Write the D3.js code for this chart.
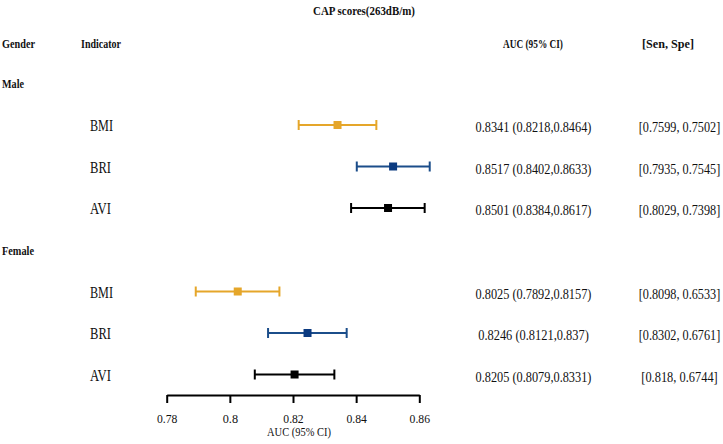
<!DOCTYPE html>
<html>
<head>
<meta charset="utf-8">
<script src="https://cdn.jsdelivr.net/npm/d3@7"></script>
<style>
  html, body { margin: 0; padding: 0; background: #fff; }
  svg { display: block; }
  text { font-family: "Liberation Serif", "Times New Roman", Tinos, serif; fill: #111; }
</style>
</head>
<body>
<svg id="chart" width="723" height="444"></svg>
<script>
// ---- data ----
const title = "CAP scores(263dB/m)";
const headers = ["Gender", "Indicator", "AUC (95% CI)", "[Sen, Spe]"];
const genders = ["Male", "Female"];
const indicators = ["BMI", "BRI", "AVI"];
const auc   = [0.8341, 0.8517, 0.8501, 0.8025, 0.8246, 0.8205];
const lower = [0.8218, 0.8402, 0.8384, 0.7892, 0.8121, 0.8079];
const upper = [0.8464, 0.8633, 0.8617, 0.8157, 0.8370, 0.8331];
const aucText = ["0.8341 (0.8218,0.8464)", "0.8517 (0.8402,0.8633)", "0.8501 (0.8384,0.8617)",
                 "0.8025 (0.7892,0.8157)", "0.8246 (0.8121,0.837)", "0.8205 (0.8079,0.8331)"];
const senSpe = ["[0.7599, 0.7502]", "[0.7935, 0.7545]", "[0.8029, 0.7398]",
                "[0.8098, 0.6533]", "[0.8302, 0.6761]", "[0.818, 0.6744]"];
const xTicks = [0.78, 0.80, 0.82, 0.84, 0.86];
const xTickLabels = ["0.78", "0.8", "0.82", "0.84", "0.86"];
const xLabel = "AUC (95% CI)";
const colors = { BMI: "#E5A62A", BRI: "#1B4D8A", AVI: "#000000" };

// ---- layout ----
const svg = d3.select("#chart");
const x = d3.scaleLinear().domain([0.78, 0.86]).range([166.7, 419.3]);

const rows = [];
genders.forEach((g, gi) => indicators.forEach((ind, ii) => {
  const i = gi * indicators.length + ii;
  rows.push({ g, ind, i, gi, ii, auc: auc[i], lo: lower[i], hi: upper[i], aucText: aucText[i], ss: senSpe[i] });
}));
const yRow = d => 125 + d.gi * 166.5 + d.ii * 41.5;

// helper: text centred on (cx, y) and horizontally scaled to width w
function fitText(sel, cx, y, w) {
  sel.attr("text-anchor", "middle").attr("x", 0).attr("y", 0)
    .each(function (d, i) {
      const nat = this.getComputedTextLength() || 1;
      const s = w(d, i) / nat;
      d3.select(this).attr("transform", `translate(${cx(d, i)},${y(d, i)}) scale(${s},1)`);
    });
}

// title
svg.append("text").datum(title)
  .attr("font-weight", "bold").attr("font-size", 13).text(d => d)
  .call(fitText, () => 364, () => 15, () => 102);

// column headers
const hdr = [
  { t: headers[0], cx: 18.5, w: 33 },
  { t: headers[1], cx: 101, w: 40 },
  { t: headers[2], cx: 533, w: 60 },
  { t: headers[3], cx: 668, w: 52 }
];
svg.selectAll("text.hdr").data(hdr).join("text").attr("class", "hdr")
  .attr("font-weight", "bold").attr("font-size", 13.5).text(d => d.t)
  .call(fitText, d => d.cx, () => 48, d => d.w);

// gender labels
svg.selectAll("text.gender").data(genders).join("text").attr("class", "gender")
  .attr("font-weight", "bold").attr("font-size", 13.5).text(d => d)
  .call(fitText, (d, i) => i === 0 ? 13 : 18, (d, i) => 88 + i * 166.5, (d, i) => i === 0 ? 22 : 32);

// indicator labels
svg.selectAll("text.ind").data(rows).join("text").attr("class", "ind")
  .attr("font-size", 16).text(d => d.ind)
  .call(fitText, d => d.ind === "BMI" ? 101.5 : 100.5, d => yRow(d) + 6, d => d.ind === "BMI" ? 23 : 21);

// AUC text & Sen/Spe text
svg.selectAll("text.auc").data(rows).join("text").attr("class", "auc")
  .attr("font-size", 14.5).text(d => d.aucText)
  .call(fitText, () => 533.5, d => yRow(d) + 7, d => d.aucText.length * 5.27);
svg.selectAll("text.ss").data(rows).join("text").attr("class", "ss")
  .attr("font-size", 14.5).text(d => d.ss)
  .call(fitText, () => 679.5, d => yRow(d) + 7, d => d.ss.length * 5.1);

// error bars
const eb = svg.append("g").selectAll("g").data(rows).join("g");
eb.append("line").attr("x1", d => x(d.lo)).attr("x2", d => x(d.hi))
  .attr("y1", yRow).attr("y2", yRow).attr("stroke", d => colors[d.ind]).attr("stroke-width", 2);
eb.append("line").attr("x1", d => x(d.lo)).attr("x2", d => x(d.lo))
  .attr("y1", d => yRow(d) - 5).attr("y2", d => yRow(d) + 5).attr("stroke", d => colors[d.ind]).attr("stroke-width", 2);
eb.append("line").attr("x1", d => x(d.hi)).attr("x2", d => x(d.hi))
  .attr("y1", d => yRow(d) - 5).attr("y2", d => yRow(d) + 5).attr("stroke", d => colors[d.ind]).attr("stroke-width", 2);
eb.append("rect").attr("x", d => x(d.auc) - 4).attr("y", d => yRow(d) - 4)
  .attr("width", 8).attr("height", 8).attr("fill", d => d.ind === "BRI" ? "#0B3A80" : colors[d.ind]);

// x axis
const axis = d3.axisBottom(x).tickValues(xTicks).tickSize(8).tickSizeOuter(0)
  .tickFormat((d, i) => xTickLabels[i]);
const gAx = svg.append("g").attr("transform", "translate(0,395)").call(axis);
gAx.attr("font-family", null);
gAx.select(".domain").attr("stroke", "#000").attr("stroke-width", 2);
gAx.selectAll(".tick line").attr("stroke", "#000").attr("stroke-width", 2);
gAx.selectAll(".tick text").attr("font-size", 13).attr("fill", "#111").attr("dy", null)
  .call(fitText, () => 0, () => 28, (d, i) => xTickLabels[i].length * 5.1);

svg.append("text").datum(xLabel)
  .attr("font-size", 12.5).text(d => d)
  .call(fitText, () => 299, () => 436, () => 64);
</script>
</body>
</html>
